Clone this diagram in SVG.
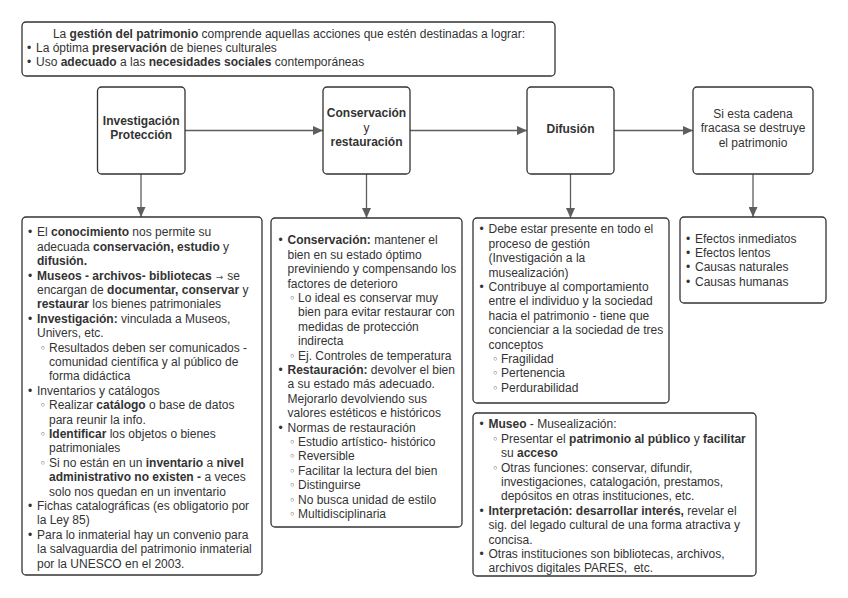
<svg xmlns="http://www.w3.org/2000/svg" width="848" height="598" viewBox="0 0 848 598">
<defs>
<style>
.box{fill:#fff;stroke:#333;stroke-width:1.3}
.t{font-family:"Liberation Sans",Arial,sans-serif;font-size:12px;fill:#333}
.b{font-weight:bold}
.c{text-anchor:middle}
.sb{font-family:"DejaVu Sans",sans-serif;font-size:11px;fill:#444}
.edge{stroke:#5e5e5e;stroke-width:1.3;fill:none;marker-end:url(#ah)}
</style>
<marker id="ah" markerUnits="userSpaceOnUse" markerWidth="11" markerHeight="9" refX="10" refY="4.5" orient="auto">
<path d="M0,0 L10,4.5 L0,9 Z" fill="#5e5e5e"/>
</marker>
</defs>
<rect width="848" height="598" fill="#fff"/>

<g id="connectors">
<line class="edge" x1="185" y1="130.5" x2="323" y2="130.5"/>
<line class="edge" x1="410" y1="130.5" x2="527" y2="130.5"/>
<line class="edge" x1="614" y1="130.5" x2="693" y2="130.5"/>
<line class="edge" x1="141" y1="174" x2="141" y2="217"/>
<line class="edge" x1="366.5" y1="174" x2="366.5" y2="218"/>
<line class="edge" x1="570.5" y1="174" x2="570.5" y2="218"/>
<line class="edge" x1="753" y1="174" x2="753" y2="217"/>
</g>

<g id="intro">
<rect class="box" x="22" y="22" width="533" height="54" rx="4"/>
<text class="t c" x="289" y="37.6">La <tspan class="b">gestión del patrimonio</tspan> comprende aquellas acciones que estén destinadas a lograr:</text>
<text class="t" x="27" y="51.8">•</text><text class="t" x="36" y="51.8">La óptima <tspan class="b">preservación</tspan> de bienes culturales</text>
<text class="t" x="27" y="66.2">•</text><text class="t" x="36" y="66.2">Uso <tspan class="b">adecuado</tspan> a las <tspan class="b">necesidades sociales</tspan> contemporáneas</text>
</g>

<g id="n-investigacion">
<rect class="box" x="97.5" y="87" width="87.5" height="87" rx="4"/>
<text class="t b c" x="141.2" y="125.3">Investigación</text>
<text class="t b c" x="141.2" y="138.6">Protección</text>
</g>

<g id="n-conservacion">
<rect class="box" x="323" y="87" width="87" height="87" rx="4"/>
<text class="t b c" x="366.5" y="117">Conservación</text>
<text class="t c" x="366.5" y="132">y</text>
<text class="t b c" x="366.5" y="146">restauración</text>
</g>

<g id="n-difusion">
<rect class="box" x="527" y="87" width="87" height="87" rx="4"/>
<text class="t b c" x="570.5" y="132.6">Difusión</text>
</g>

<g id="n-cadena">
<rect class="box" x="693" y="87" width="120" height="87" rx="4"/>
<text class="t c" x="753" y="117.6">Si esta cadena</text>
<text class="t c" x="753" y="132">fracasa se destruye</text>
<text class="t c" x="753" y="146.6">el patrimonio</text>
</g>

<g id="d-investigacion">
<rect class="box" x="22" y="217" width="240" height="358" rx="4"/>
<text class="t" x="28" y="236.3">•</text><text class="t" x="37" y="236.3">El <tspan class="b">conocimiento</tspan> nos permite su</text>
<text class="t" x="37" y="250.7">adecuada <tspan class="b">conservación, estudio</tspan> y</text>
<text class="t b" x="37" y="265.1">difusión.</text>
<text class="t" x="28" y="279.5">•</text><text class="t" x="37" y="279.5"><tspan class="b">Museos - archivos- bibliotecas</tspan><tspan dx="4" font-family="DejaVu Sans, sans-serif" font-size="9" fill="#555">→</tspan><tspan dx="4">se</tspan></text>
<text class="t" x="37" y="293.9">encargan de <tspan class="b">documentar, conservar</tspan> y</text>
<text class="t" x="37" y="308.3"><tspan class="b">restaurar</tspan> los bienes patrimoniales</text>
<text class="t" x="28" y="322.7">•</text><text class="t" x="37" y="322.7"><tspan class="b">Investigación:</tspan> vinculada a Museos,</text>
<text class="t" x="37" y="337.1">Univers, etc.</text>
<text class="sb" x="39.5" y="351.5">◦</text><text class="t" x="49" y="351.5">Resultados deben ser comunicados -</text>
<text class="t" x="49" y="365.9">comunidad científica y al público de</text>
<text class="t" x="49" y="380.3">forma didáctica</text>
<text class="t" x="28" y="394.7">•</text><text class="t" x="37" y="394.7">Inventarios y catálogos</text>
<text class="sb" x="39.5" y="409.1">◦</text><text class="t" x="49" y="409.1">Realizar <tspan class="b">catálogo</tspan> o base de datos</text>
<text class="t" x="49" y="423.5">para reunir la info.</text>
<text class="sb" x="39.5" y="437.9">◦</text><text class="t" x="49" y="437.9"><tspan class="b">Identificar</tspan> los objetos o bienes</text>
<text class="t" x="49" y="452.3">patrimoniales</text>
<text class="sb" x="39.5" y="466.7">◦</text><text class="t" x="49" y="466.7">Si no están en un <tspan class="b">inventario</tspan> a <tspan class="b">nivel</tspan></text>
<text class="t" x="49" y="481.1"><tspan class="b">administrativo no existen -</tspan> a veces</text>
<text class="t" x="49" y="495.5">solo nos quedan en un inventario</text>
<text class="t" x="28" y="509.9">•</text><text class="t" x="37" y="509.9">Fichas catalográficas (es obligatorio por</text>
<text class="t" x="37" y="524.3">la Ley 85)</text>
<text class="t" x="28" y="538.7">•</text><text class="t" x="37" y="538.7">Para lo inmaterial hay un convenio para</text>
<text class="t" x="37" y="553.1">la salvaguardia del patrimonio inmaterial</text>
<text class="t" x="37" y="567.5">por la UNESCO en el 2003.</text>
</g>

<g id="d-conservacion">
<rect class="box" x="271" y="218" width="191" height="309" rx="4"/>
<text class="t" x="278.5" y="244.3">•</text><text class="t" x="287.5" y="244.3"><tspan class="b">Conservación:</tspan> mantener el</text>
<text class="t" x="287.5" y="258.7">bien en su estado óptimo</text>
<text class="t" x="287.5" y="273.1">previniendo y compensando los</text>
<text class="t" x="287.5" y="287.5">factores de deterioro</text>
<text class="sb" x="289" y="301.9">◦</text><text class="t" x="298" y="301.9">Lo ideal es conservar muy</text>
<text class="t" x="298" y="316.3">bien para evitar restaurar con</text>
<text class="t" x="298" y="330.7">medidas de protección</text>
<text class="t" x="298" y="345.1">indirecta</text>
<text class="sb" x="289" y="359.5">◦</text><text class="t" x="298" y="359.5">Ej. Controles de temperatura</text>
<text class="t" x="278.5" y="373.9">•</text><text class="t" x="287.5" y="373.9"><tspan class="b">Restauración:</tspan> devolver el bien</text>
<text class="t" x="287.5" y="388.3">a su estado más adecuado.</text>
<text class="t" x="287.5" y="402.7">Mejorarlo devolviendo sus</text>
<text class="t" x="287.5" y="417.1">valores estéticos e históricos</text>
<text class="t" x="278.5" y="431.5">•</text><text class="t" x="287.5" y="431.5">Normas de restauración</text>
<text class="sb" x="289" y="445.9">◦</text><text class="t" x="298" y="445.9">Estudio artístico- histórico</text>
<text class="sb" x="289" y="460.3">◦</text><text class="t" x="298" y="460.3">Reversible</text>
<text class="sb" x="289" y="474.7">◦</text><text class="t" x="298" y="474.7">Facilitar la lectura del bien</text>
<text class="sb" x="289" y="489.1">◦</text><text class="t" x="298" y="489.1">Distinguirse</text>
<text class="sb" x="289" y="503.5">◦</text><text class="t" x="298" y="503.5">No busca unidad de estilo</text>
<text class="sb" x="289" y="517.9">◦</text><text class="t" x="298" y="517.9">Multidisciplinaria</text>
</g>

<g id="d-difusion">
<rect class="box" x="473" y="218" width="196" height="185" rx="4"/>
<text class="t" x="479.5" y="233.3">•</text><text class="t" x="488.5" y="233.3">Debe estar presente en todo el</text>
<text class="t" x="488.5" y="247.7">proceso de gestión</text>
<text class="t" x="488.5" y="262.1">(Investigación a la</text>
<text class="t" x="488.5" y="276.5">musealización)</text>
<text class="t" x="479.5" y="290.9">•</text><text class="t" x="488.5" y="290.9">Contribuye al comportamiento</text>
<text class="t" x="488.5" y="305.3">entre el individuo y la sociedad</text>
<text class="t" x="488.5" y="319.7">hacia el patrimonio - tiene que</text>
<text class="t" x="488.5" y="334.1">concienciar a la sociedad de tres</text>
<text class="t" x="488.5" y="348.5">conceptos</text>
<text class="sb" x="492" y="362.9">◦</text><text class="t" x="501" y="362.9">Fragilidad</text>
<text class="sb" x="492" y="377.3">◦</text><text class="t" x="501" y="377.3">Pertenencia</text>
<text class="sb" x="492" y="391.7">◦</text><text class="t" x="501" y="391.7">Perdurabilidad</text>
</g>

<g id="d-museo">
<rect class="box" x="473" y="413" width="283" height="163" rx="4"/>
<text class="t" x="479.5" y="428.3">•</text><text class="t" x="488.5" y="428.3"><tspan class="b">Museo</tspan> - Musealización:</text>
<text class="sb" x="492" y="442.7">◦</text><text class="t" x="501" y="442.7">Presentar el <tspan class="b">patrimonio al público</tspan> y <tspan class="b">facilitar</tspan></text>
<text class="t" x="501" y="457.1">su <tspan class="b">acceso</tspan></text>
<text class="sb" x="492" y="471.5">◦</text><text class="t" x="501" y="471.5">Otras funciones: conservar, difundir,</text>
<text class="t" x="501" y="485.9">investigaciones, catalogación, prestamos,</text>
<text class="t" x="501" y="500.3">depósitos en otras instituciones, etc.</text>
<text class="t" x="479.5" y="514.7">•</text><text class="t" x="488.5" y="514.7"><tspan class="b">Interpretación: desarrollar interés,</tspan> revelar el</text>
<text class="t" x="488.5" y="529.1">sig. del legado cultural de una forma atractiva y</text>
<text class="t" x="488.5" y="543.5">concisa.</text>
<text class="t" x="479.5" y="557.9">•</text><text class="t" x="488.5" y="557.9">Otras instituciones son bibliotecas, archivos,</text>
<text class="t" x="488.5" y="572.3" xml:space="preserve">archivos digitales PARES,  etc.</text>
</g>

<g id="d-cadena">
<rect class="box" x="680" y="217" width="146" height="86" rx="4"/>
<text class="t" x="686" y="242.6">•</text><text class="t" x="695" y="242.6">Efectos inmediatos</text>
<text class="t" x="686" y="257">•</text><text class="t" x="695" y="257">Efectos lentos</text>
<text class="t" x="686" y="271.4">•</text><text class="t" x="695" y="271.4">Causas naturales</text>
<text class="t" x="686" y="285.8">•</text><text class="t" x="695" y="285.8">Causas humanas</text>
</g>
</svg>
